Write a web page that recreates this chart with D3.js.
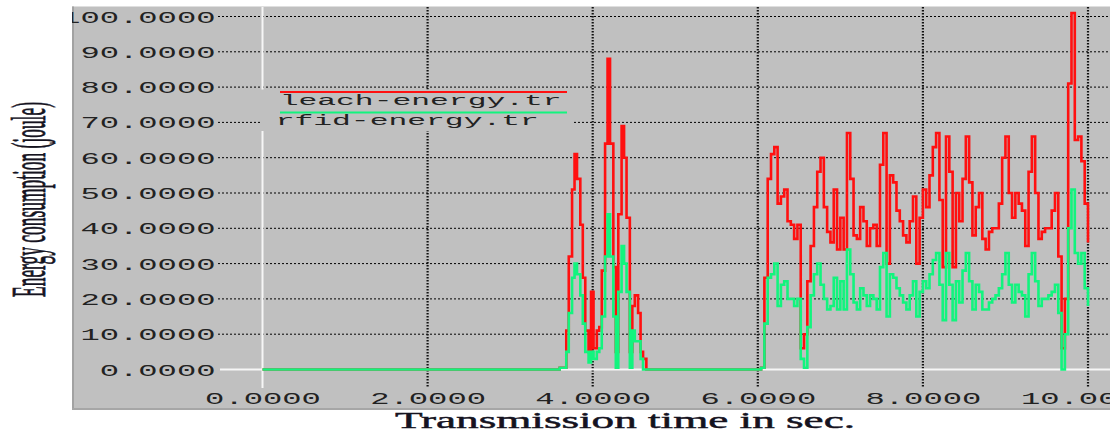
<!DOCTYPE html>
<html>
<head>
<meta charset="utf-8">
<script src="https://cdn.jsdelivr.net/npm/d3@7"></script>
<style>
  html, body { margin: 0; padding: 0; background: #ffffff; }
  svg { display: block; }
</style>
</head>
<body>
<svg id="chart" width="1110" height="434"></svg>
<script>
// ---- data (energy in joule, time in seconds) ----
const xTicks = [0, 2, 4, 6, 8, 10];
const yTicks = [0, 10, 20, 30, 40, 50, 60, 70, 80, 90, 100];
const seriesNames = ["leach-energy.tr", "rfid-energy.tr"];

// first activity burst: irregular sample instants
const burstOneTimes = [3.60, 3.68, 3.71, 3.75, 3.78, 3.81, 3.85, 3.88, 3.91, 3.95,
                       3.98, 4.01, 4.05, 4.08, 4.11, 4.15, 4.18, 4.21, 4.25, 4.28,
                       4.31, 4.35, 4.38, 4.41, 4.45, 4.48, 4.51, 4.55, 4.58, 4.61, 4.65];
const burstOneLeach = [0.5, 11, 32, 51, 61, 54, 41, 26, 11, 5,
                       22, 6, 11, 12, 28, 64, 88, 64, 29, 5,
                       44, 69, 60, 43, 5, 18, 21, 16, 5, 3, 0];
const burstOneRfid  = [0.5, 5, 16, 26, 30, 27, 21, 13, 5, 2,
                       5, 3, 5, 6, 15, 32, 44, 32, 15, 0.5,
                       22, 35, 30, 22, 0.5, 11, 8, 8, 3, 0, 0];

// second activity burst: samples every 0.04 s starting at 6.04 s
const burstTwoStart = 6.04;
const burstTwoStep = 0.04;
const burstTwoLeach = [0.5,
  26, 54, 61, 63, 47, 49, 51, 42, 41, 37, 41,
  6, 10, 25, 35, 46, 56, 60, 46, 39, 36, 51, 34,
  43, 34, 67, 54, 38, 37, 46, 42, 35, 40, 41, 35,
  58, 67, 30, 55, 53, 45, 42, 38, 36, 42, 49, 30, 43,
  51, 46, 55, 63, 67,
  48, 29, 66, 56, 29, 50, 42, 54, 66, 53,
  38, 46, 50, 37, 34, 39, 40, 40, 47, 60,
  66, 50, 43, 50, 47, 45, 35, 56, 66, 50,
  37, 39, 40, 40, 45, 50, 32, 6, 20, 81,
  101, 65, 66, 59, 47, 36];
const burstTwoRfid = [0.5,
  13, 26, 27, 30, 18, 24, 25, 20, 20, 18, 20,
  3, 0.5, 12, 21, 27, 30, 24, 20, 17, 18, 26, 17,
  25, 17, 34, 27, 19, 17, 23, 21, 18, 21, 20, 17,
  29, 33, 15, 27, 26, 23, 21, 19, 17, 21, 25, 15, 22,
  25, 23, 27, 31, 33,
  24, 14, 33, 24, 14, 25, 19, 28, 33, 25,
  17, 24, 22, 17, 17, 19, 20, 21, 23, 27,
  33, 24, 19, 24, 22, 21, 15, 27, 33, 25,
  18, 20, 20, 21, 22, 24, 16, 0, 10, 40,
  51, 33, 30, 33, 23, 18];

// assemble each trace: idle from t = 0, then the two bursts
function buildTrace(burstOne, burstTwo) {
  const pts = [{ t: 0, v: 0 }];
  burstOneTimes.forEach((t, i) => pts.push({ t, v: burstOne[i] }));
  burstTwo.forEach((v, i) => pts.push({ t: burstTwoStart + i * burstTwoStep, v }));
  return pts;
}
const leachTrace = buildTrace(burstOneLeach, burstTwoLeach);
const rfidTrace = buildTrace(burstOneRfid, burstTwoRfid);

// ---- drawing ----
const svg = d3.select("#chart");
const W = 1110, H = 434;
const x = d3.scaleLinear().domain([0, 10]).range([262.5, 1088]);
const y = d3.scaleLinear().domain([0, 100]).range([369.5, 16.5]);

const monoFont = "'Liberation Mono', 'DejaVu Sans Mono', monospace";
const serifFont = "'Liberation Serif', 'DejaVu Serif', serif";
const tickCharW = 19.3;       // wide pixel-font advance per character (tick labels)
const legendCharW = 18.8;     // advance per character (legend)
const labelColor = "#222222";
const titleColor = "#15131f";

// panel
svg.append("defs").append("clipPath").attr("id", "panelClip")
  .append("rect").attr("x", 72).attr("y", 6.5).attr("width", W - 72).attr("height", 403.5);
svg.append("rect").attr("x", 72).attr("y", 6.5).attr("width", W - 72).attr("height", 403.5)
  .attr("fill", "#c0c0c0");
svg.append("rect").attr("x", 72).attr("y", 6.5).attr("width", 2).attr("height", 403.5)
  .attr("fill", "#a2a2a2");
svg.append("rect").attr("x", 72).attr("y", 408).attr("width", W - 72).attr("height", 2)
  .attr("fill", "#a6a6a6");

const plot = svg.append("g").attr("clip-path", "url(#panelClip)");

// horizontal grid
plot.selectAll("line.hgrid").data(yTicks.filter(d => d !== 0)).join("line")
  .attr("class", "hgrid")
  .attr("x1", 218).attr("x2", W)
  .attr("y1", d => y(d)).attr("y2", d => y(d))
  .attr("stroke", "#000").attr("stroke-width", 1).attr("stroke-dasharray", "2,2");

// vertical grid
plot.selectAll("line.vgrid").data(xTicks.filter(d => d !== 0)).join("line")
  .attr("class", "vgrid")
  .attr("x1", d => x(d)).attr("x2", d => x(d))
  .attr("y1", 7).attr("y2", 387)
  .attr("stroke", "#111").attr("stroke-width", 2.2).attr("stroke-dasharray", "1.5,1.5");

// zero axes in white
plot.append("line").attr("x1", 220).attr("x2", W).attr("y1", y(0)).attr("y2", y(0))
  .attr("stroke", "#f6f6f6").attr("stroke-width", 2);
plot.append("line").attr("x1", x(0)).attr("x2", x(0)).attr("y1", 7).attr("y2", 388)
  .attr("stroke", "#f6f6f6").attr("stroke-width", 2);

// legend block
const legend = plot.append("g");
legend.append("rect").attr("x", 261).attr("y", 89.5).attr("width", 311).attr("height", 41.5)
  .attr("fill", "#c0c0c0");
const colors = ["#ff1010", "#12f47e"];
const legendRows = [92, 112.5];
const legendTextX = [279.7, 275.7];
seriesNames.forEach((name, i) => {
  legend.append("line").attr("x1", 280).attr("x2", 567)
    .attr("y1", legendRows[i]).attr("y2", legendRows[i])
    .attr("stroke", colors[i]).attr("stroke-width", 2);
  legend.append("text")
    .attr("x", legendTextX[i]).attr("y", legendRows[i] + 12.8)
    .attr("textLength", name.length * legendCharW).attr("lengthAdjust", "spacingAndGlyphs")
    .attr("font-family", monoFont).attr("font-size", 15.5).attr("fill", labelColor)
    .text(name);
});

// traces
const line = d3.line().x(d => x(d.t)).y(d => y(d.v)).curve(d3.curveStepAfter);
plot.append("path").datum(leachTrace).attr("d", line)
  .attr("fill", "none").attr("stroke", colors[0]).attr("stroke-width", 2.6)
  .attr("stroke-linejoin", "miter");
plot.append("path").datum(rfidTrace).attr("d", line)
  .attr("fill", "none").attr("stroke", colors[1]).attr("stroke-width", 2.6)
  .attr("stroke-linejoin", "miter");

// y axis labels
const fmt = d3.format(".4f");
const yAxis = plot.append("g").attr("transform", "translate(215.5,0)")
  .call(d3.axisLeft(y).tickValues(yTicks).tickFormat(fmt).tickSize(0).tickPadding(0));
yAxis.select(".domain").remove();
yAxis.selectAll("text")
  .attr("text-anchor", "start")
  .attr("x", d => -fmt(d).length * tickCharW)
  .attr("dy", "5.5")
  .attr("textLength", d => fmt(d).length * tickCharW).attr("lengthAdjust", "spacingAndGlyphs")
  .attr("font-family", monoFont).attr("font-size", 17).attr("fill", labelColor);

// x axis labels
const xAxis = plot.append("g").attr("transform", "translate(0,404)")
  .call(d3.axisBottom(x).tickValues(xTicks).tickFormat(fmt).tickSize(0).tickPadding(0));
xAxis.select(".domain").remove();
xAxis.selectAll("text")
  .attr("text-anchor", "start")
  .attr("x", d => -fmt(d).length * tickCharW / 2)
  .attr("y", 0).attr("dy", 0)
  .attr("textLength", d => fmt(d).length * tickCharW).attr("lengthAdjust", "spacingAndGlyphs")
  .attr("font-family", monoFont).attr("font-size", 17).attr("fill", labelColor);

// axis titles
svg.append("text")
  .attr("x", 395).attr("y", 428)
  .attr("textLength", 460).attr("lengthAdjust", "spacingAndGlyphs")
  .attr("font-family", serifFont).attr("font-size", 23)
  .attr("fill", titleColor).attr("stroke", titleColor).attr("stroke-width", 0.45)
  .text("Transmission time in sec.");

svg.append("text")
  .attr("transform", "translate(45,199.5) scale(2.75,1) rotate(-90)")
  .attr("text-anchor", "middle")
  .attr("font-family", serifFont).attr("font-size", 17.4)
  .attr("fill", titleColor).attr("stroke", titleColor).attr("stroke-width", 0.3)
  .text("Energy consumption (joule)");
</script>
</body>
</html>
